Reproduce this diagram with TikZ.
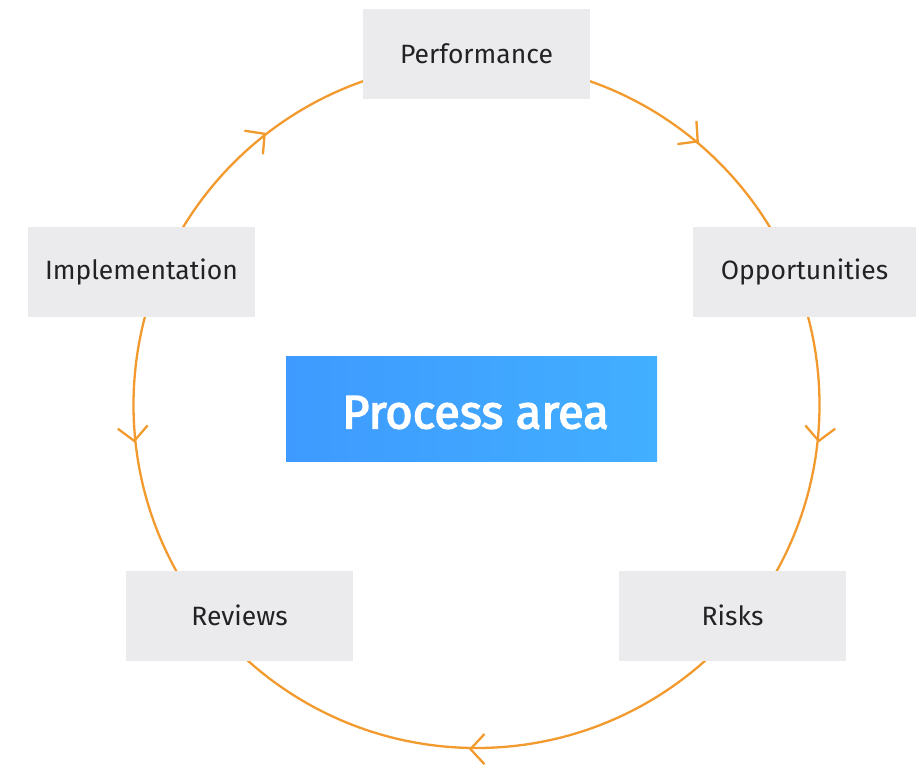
\documentclass[tikz,border=0pt]{standalone}
\usepackage{fontspec}
\setmainfont{Fira Sans}
\newfontfamily\pafont[FakeBold=3]{Fira Sans}
\definecolor{boxgray}{RGB}{235,235,237}
\definecolor{ringorange}{RGB}{242,154,46}
\definecolor{txt}{RGB}{34,34,38}
\definecolor{blueL}{RGB}{62,154,255}
\definecolor{blueR}{RGB}{66,175,255}
\tikzset{
  label box/.style={fill=boxgray, minimum width=227pt, minimum height=90pt, inner sep=0pt,
    text=txt, font=\fontsize{26.5}{30}\selectfont},
  ring line/.style={draw=ringorange, line width=2.3pt},
  chev/.style={draw=ringorange, line width=2.3pt, line cap=butt, line join=miter}
}
\begin{document}
\begin{tikzpicture}[x=1pt,y=1pt]
\useasboundingbox (0,0) rectangle (916,-764);
% ring
\node[circle, ring line, minimum size=686pt, inner sep=0pt] (ring) at (476.5,-405) {};
% chevrons (tip on ring, pointing along the flow)
\draw[chev] ([shift={(171.2:20.5)}]ring.128.2) -- (ring.128.2) -- ([shift={(-94.8:20.5)}]ring.128.2);
\draw[chev] ([shift={(93.6:20.5)}]ring.50.6) -- (ring.50.6) -- ([shift={(-172.4:20.5)}]ring.50.6);
\draw[chev] ([shift={(36.8:20.5)}]ring.-6.2) -- (ring.-6.2) -- ([shift={(-229.2:20.5)}]ring.-6.2);
\draw[chev] ([shift={(49.3:20.5)}]ring.186.3) -- (ring.186.3) -- ([shift={(143.3:20.5)}]ring.186.3);
\draw[chev] ([shift={(-47.25:20.5)}]ring.269.75) -- (ring.269.75) -- ([shift={(47.25:20.5)}]ring.269.75);
% label boxes
\node[label box] (perf) at (476.5,-54) {Performance};
\node[label box, minimum width=223pt] (opp) at (804.5,-272) {Opportunities};
\node[label box] (risk) at (732.5,-615.5) {Risks};
\node[label box] (rev) at (239.5,-615.5) {Reviews};
\node[label box] (impl) at (141.5,-272) {Implementation};
% centre
\node[left color=blueL, right color=blueR, minimum width=371pt, minimum height=105pt, inner sep=0pt] (pa) at (471.5,-408.5) {};
\node[text=white, font=\pafont\fontsize{47}{50}\selectfont, inner sep=0pt] (patext) at ([xshift=4pt,yshift=-4pt]pa.center) {Process area};
\end{tikzpicture}
\end{document}
